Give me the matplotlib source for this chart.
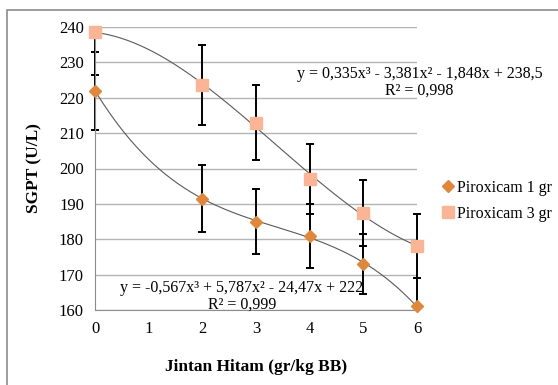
import numpy as np
import matplotlib
matplotlib.use("Agg")
import matplotlib.pyplot as plt
from matplotlib.patches import Rectangle

plt.rcParams['font.family'] = ['Liberation Serif', 'DejaVu Serif']

dose = [0, 2, 3, 4, 5, 6]
piro1 = [222, 191.5, 185, 181, 173, 161]
piro1_err = [11, 9.5, 9.2, 9, 8.6, 8]
piro3 = [238.5, 223.5, 213, 197, 187.5, 178]
piro3_err = [12, 11.3, 10.7, 10, 9.3, 9]
x_ticks = [0, 1, 2, 3, 4, 5, 6]
y_ticks = [160, 170, 180, 190, 200, 210, 220, 230, 240]

fig = plt.figure(figsize=(5.58, 3.85), dpi=100)
ax = fig.add_axes([95 / 558, 1 - 310 / 385, 322 / 558, 283 / 385])

# outer chart frame (cropped on right/bottom)
fig.patches.append(Rectangle((7 / 558, -0.05), 1.1, 1 - 10 / 385 + 0.05,
                             transform=fig.transFigure, fill=False,
                             edgecolor='#8c8c8c', lw=1.2))

for yv in y_ticks:
    ax.axhline(yv, color='#b4b4b4', lw=1, zorder=0)

# cubic trendlines
xs = np.linspace(0, 6, 200)
c1 = np.polyfit(dose, piro1, 3)
c3 = np.polyfit(dose, piro3, 3)
ax.plot(xs, np.polyval(c1, xs), color='#5a5a5a', lw=0.8, zorder=3)
ax.plot(xs, np.polyval(c3, xs), color='#5a5a5a', lw=0.8, zorder=3)

# clip only in y (bars may overhang the x limits)
clip = Rectangle((-1, 160), 8, 80, transform=ax.transData)
for yv, err in [(piro1, piro1_err), (piro3, piro3_err)]:
    eb = ax.errorbar(dose, yv, yerr=err, fmt='none', ecolor='black',
                     elinewidth=1.4, capsize=3, capthick=1.4, zorder=2)
    for art in eb.lines[1] + eb.lines[2]:
        art.set_clip_path(clip)

ax.plot(dose, piro1, 'D', color='#e0873e', ms=6.5, ls='none',
        label='Piroxicam 1 gr', zorder=4, clip_on=False)
ax.plot(dose, piro3, 's', color='#f9b595', ms=8.5, ls='none',
        label='Piroxicam 3 gr', zorder=4, clip_on=False)

ax.set_xlim(0, 6)
ax.set_ylim(160, 240)
ax.set_xticks(x_ticks)
ax.set_yticks(y_ticks)
ax.tick_params(length=0, labelsize=12, pad=8)
for s in ['top', 'right']:
    ax.spines[s].set_visible(False)
for s in ['left', 'bottom']:
    ax.spines[s].set_color('#8c8c8c')

ax.set_ylabel('SGPT (U/L)', fontsize=12.5, fontweight='bold', labelpad=12)
ax.set_xlabel('Jintan Hitam (gr/kg BB)', fontsize=12.5, fontweight='bold', labelpad=16)

ax.text(6.05, 229, 'y = 0,335x³ - 3,381x² - 1,848x + 238,5\nR² = 0,998',
        ha='center', va='top', fontsize=11.5, linespacing=1.05, clip_on=False)
ax.text(2.74, 168.5, 'y = -0,567x³ + 5,787x² - 24,47x + 222\nR² = 0,999',
        ha='center', va='top', fontsize=11.5, linespacing=1.05, clip_on=False)

ax.legend(loc='upper left', bbox_to_anchor=(443 / 558, 1 - 180 / 385),
          bbox_transform=fig.transFigure, frameon=False, fontsize=11.5,
          handlelength=0.6, handletextpad=0.3, labelspacing=0.6,
          borderpad=0, borderaxespad=0)

fig.savefig('out.png', dpi=100)
